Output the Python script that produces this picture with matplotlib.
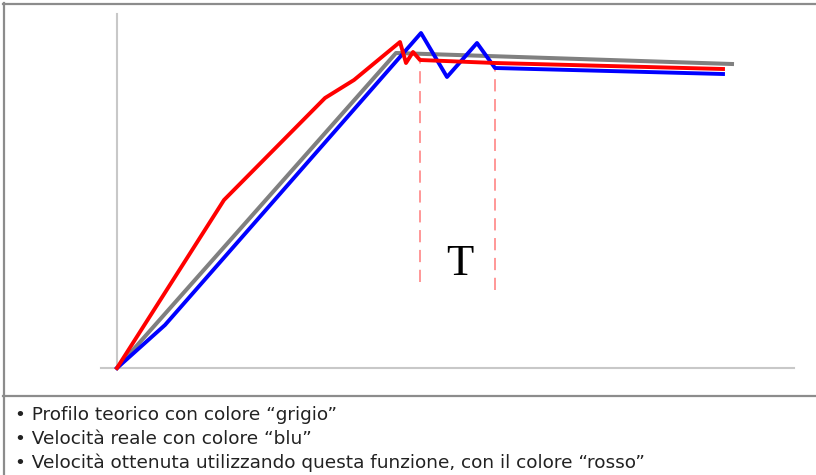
import matplotlib.pyplot as plt
from matplotlib.lines import Line2D

# velocity profiles (time, speed in arbitrary units)
t_grey = [0, 27.9, 61.5]
v_grey = [0, 31.5, 30.4]

t_blue = [0, 4.8, 30.4, 33.0, 36.0, 37.8, 60.6]
v_blue = [0, 4.3, 33.5, 29.1, 32.5, 30.0, 29.4]

t_red = [0, 10.7, 20.8, 23.7, 28.3, 28.9, 29.6, 30.3, 37.8, 60.6]
v_red = [0, 16.8, 27.0, 28.8, 32.6, 30.5, 31.6, 30.8, 30.5, 29.9]

# the period T marked with dashed lines
t_marks = [30.3, 37.8]
v_mark_top = [30.6, 30.0]
v_mark_bottom = [8.6, 7.8]
t_label = 34.25
v_label = 9.3

bullets = [
    "\u2022 Profilo teorico con colore \u201cgrigio\u201d",
    "\u2022 Velocit\u00e0 reale con colore \u201cblu\u201d",
    "\u2022 Velocit\u00e0 ottenuta utilizzando questa funzione, con il colore \u201crosso\u201d",
]

W, H = 816, 475
fig = plt.figure(figsize=(W / 100, H / 100), dpi=100)
fig.patch.set_facecolor('white')

ax = fig.add_axes([101 / W, (H - 380) / H, 693 / W, 366 / H])
ax.set_xlim(-1.6, 67.7)
ax.set_ylim(-1.2, 35.4)
ax.set_facecolor('none')

for s in ['top', 'right']:
    ax.spines[s].set_visible(False)
ax.spines['left'].set_position(('data', 0))
ax.spines['bottom'].set_position(('data', 0))
ax.spines['left'].set_bounds(0, 35.4)
for s in ['left', 'bottom']:
    ax.spines[s].set_color('#c8c8c8')
    ax.spines[s].set_linewidth(1.5)
ax.set_xticks([])
ax.set_yticks([])

ax.plot(t_grey, v_grey, color='#808080', lw=2.9, solid_joinstyle='round', zorder=3)
ax.plot(t_blue, v_blue, color='#0000ff', lw=2.8, solid_joinstyle='round', zorder=4)
ax.plot(t_red, v_red, color='#ff0000', lw=2.8, solid_joinstyle='round', zorder=5)

for t, top, bot in zip(t_marks, v_mark_top, v_mark_bottom):
    ln, = ax.plot([t, t], [bot, top], color='#ff5a5a', lw=1.1, alpha=0.8, zorder=2)
    ln.set_dashes((8, 5))

ax.text(t_label, v_label, 'T', family='Liberation Serif', fontsize=32,
        ha='center', va='baseline', color='black')

# frame of the table around the figure
grey = '#8c8c8c'
fig.add_artist(Line2D([3 / W, 1], [1 - 4 / H, 1 - 4 / H], color=grey, lw=1.6))
fig.add_artist(Line2D([4 / W, 4 / W], [0, 1 - 3 / H], color=grey, lw=1.6))
fig.add_artist(Line2D([3 / W, 1], [1 - 396 / H, 1 - 396 / H], color=grey, lw=1.6))

for i, txt in enumerate(bullets):
    fig.text(15 / W, 1 - (420 + 23.8 * i) / H, txt, family='DejaVu Sans',
             fontsize=13.3, color='#222222', va='baseline', ha='left')

fig.savefig('out.png', dpi=100, facecolor='white')
